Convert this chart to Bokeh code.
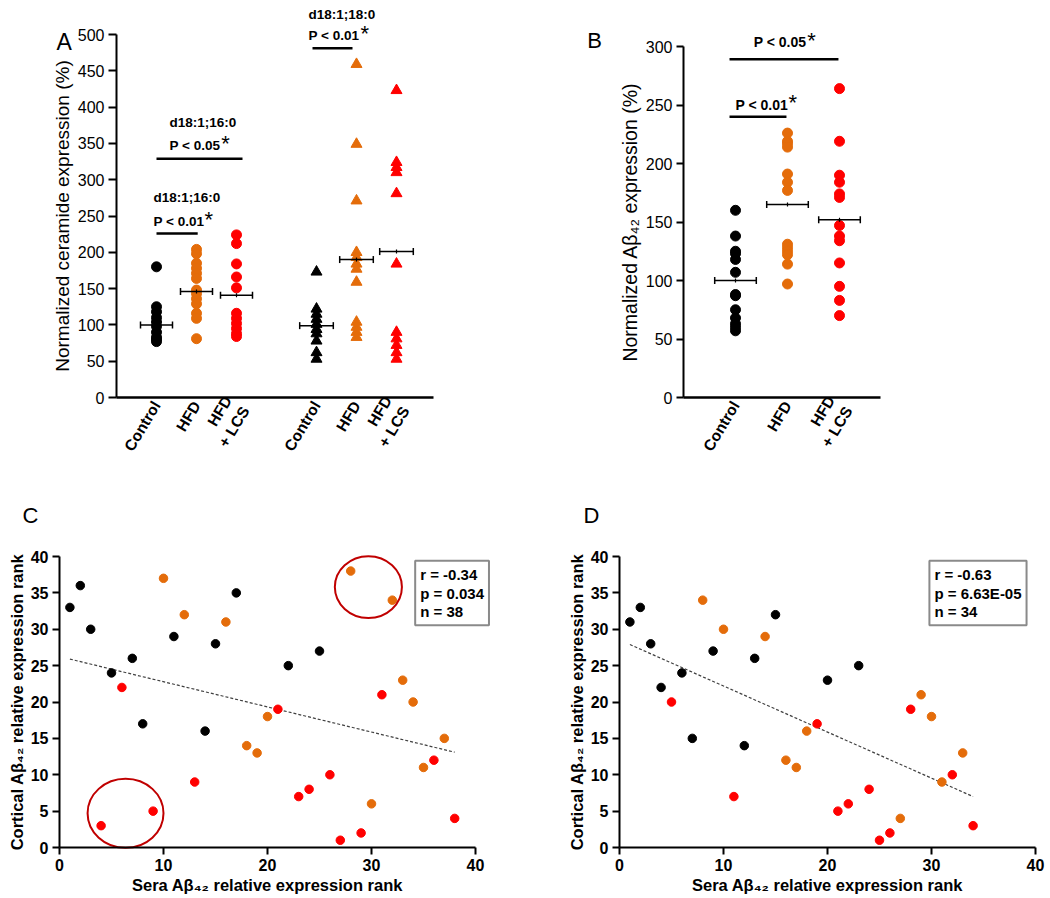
from math import pi
from bokeh.plotting import figure
from bokeh.models import Range1d, FixedTicker, Label, LinearAxis
from bokeh.layouts import row, column
from bokeh.embed import file_html
from bokeh.resources import INLINE

ORANGE = "#E46C0A"
RED = "#FF0000"
BLACK = "#000000"
FONT = "Liberation Sans"

# ---------------- Panel A data ----------------
a_cat_pos = [1, 2, 3, 5, 6, 7]
a_cat_labels = ["Control", "HFD", "HFD\n+ LCS", "Control", "HFD", "HFD\n+ LCS"]
a16_control = [180, 125, 118, 110, 104, 98, 90, 83, 80, 77]
a16_hfd = [204, 198, 185, 178, 171, 164, 148, 143, 136, 129, 116, 109, 81]
a16_lcs = [224, 212, 184, 166, 151, 116, 109, 102, 95, 88, 84]
a16_means = [100, 146, 141]
a18_control = [173, 122, 115, 108, 101, 94, 88, 78, 62, 53]
a18_hfd = [459, 349, 271, 200, 193, 184, 177, 159, 104, 97, 90, 83]
a18_lcs = [423, 324, 317, 310, 281, 184, 90, 81, 72, 62, 53]
a18_means = [99, 190, 201]
# significance brackets: (x0, x1, y, line1, line2, text_x, line1_y, line2_y, star_x, star_y)
a_sig = [
    (1.0, 2.03, 226, "d18:1;16:0", "P < 0.01", 0.925, 275, 242, 2.2, 262),
    (1.0, 3.15, 329, "d18:1;16:0", "P < 0.05", 1.325, 379, 347, 2.62, 367),
    (4.9, 5.9, 481, "d18:1;18:0", "P < 0.01", 4.8, 528, 499, 6.1, 518),
]

# ---------------- Panel B data ----------------
b_cat_pos = [1, 2, 3]
b_cat_labels = ["Control", "HFD", "HFD\n+ LCS"]
b_control = [160, 138, 125, 123, 118, 107, 88, 87, 75, 68, 63, 60, 57]
b_hfd = [226, 219, 217, 214, 191, 184, 177, 131, 128, 125, 122, 114, 97]
b_lcs = [264, 219, 190, 184, 174, 171, 147, 138, 134, 115, 95, 83, 70]
b_means = [100, 165, 152]
b_sig = [
    (0.885, 1.98, 240, "P < 0.01", 1.0, 250, 2.02, 263),
    (0.885, 2.98, 289, "P < 0.05", 1.35, 304, 2.38, 316),
]

# ---------------- Panel C data ----------------
c_black_x = [1, 2, 3, 5, 7, 8, 11, 14, 15, 17, 22, 25]
c_black_y = [33, 36, 30, 24, 26, 17, 29, 16, 28, 35, 25, 27]
c_orange_x = [10, 12, 16, 18, 19, 20, 28, 32, 30, 33, 34, 35, 37]
c_orange_y = [37, 32, 31, 14, 13, 18, 38, 34, 6, 23, 20, 11, 15]
c_red_x = [4, 6, 9, 13, 21, 23, 24, 26, 27, 29, 31, 36, 38]
c_red_y = [3, 22, 5, 9, 19, 7, 8, 10, 1, 2, 21, 12, 4]
c_trend_x = [1, 38]
c_trend_y = [25.9, 13.1]
c_ring_x = [6.35, 29.7]
c_ring_y = [4.7, 35.8]
c_ring_w = [7.3, 6.45]
c_ring_h = [9.5, 8.5]
c_stats = "r  = -0.34\np = 0.034\nn = 38"

# ---------------- Panel D data ----------------
d_black_x = [1, 2, 3, 4, 6, 7, 9, 12, 13, 15, 20, 23]
d_black_y = [31, 33, 28, 22, 24, 15, 27, 14, 26, 32, 23, 25]
d_orange_x = [8, 10, 14, 16, 17, 18, 27, 29, 30, 31, 33]
d_orange_y = [34, 30, 29, 12, 11, 16, 4, 21, 18, 9, 13]
d_red_x = [5, 11, 19, 21, 22, 24, 25, 26, 28, 32, 34]
d_red_y = [20, 7, 17, 5, 6, 8, 1, 2, 19, 10, 3]
d_trend_x = [1, 34]
d_trend_y = [27.9, 7.0]
d_stats = "r  = -0.63\np = 6.63E-05\nn = 34"

TOP_H = 458
BOT_H = 436
LEFT_W = 540
RIGHT_W = 506


def base_fig(w, h, ox, sx, oy, sy, left, top):
    """Figure whose frame fills the whole figure.
    ox/oy: page pixel of data 0; sx/sy: pixels per data unit; left/top: page pixel of figure corner."""
    x0 = (left - ox) / sx
    x1 = (left + w - ox) / sx
    y1 = (oy - top) / sy
    y0 = (oy - (top + h)) / sy
    p = figure(width=w, height=h, x_range=Range1d(x0, x1), y_range=Range1d(y0, y1),
               output_backend="svg", toolbar_location=None, title=None,
               x_axis_location=None, y_axis_location=None,
               min_border=0, min_border_left=0, min_border_right=0,
               min_border_top=0, min_border_bottom=0)
    p.xgrid.visible = False
    p.ygrid.visible = False
    p.outline_line_color = None
    p.background_fill_color = "white"
    p.border_fill_color = "white"
    return p


def add_axes(p, xbounds, ybounds, tick_out):
    xa = LinearAxis(fixed_location=0, bounds=xbounds)
    ya = LinearAxis(fixed_location=0, bounds=ybounds)
    for ax in (xa, ya):
        ax.axis_line_width = 2
        ax.axis_line_color = "black"
        ax.major_tick_line_width = 2
        ax.major_tick_line_color = "black"
        ax.minor_tick_out = 0
        ax.minor_tick_in = 0
        ax.major_tick_in = 0
        ax.major_tick_out = tick_out
        ax.major_label_standoff = 4
        ax.major_label_text_font = FONT
        ax.major_label_text_color = "black"
        ax.axis_label_text_font = FONT
        ax.axis_label_text_color = "black"
    p.add_layout(xa, "below")
    p.add_layout(ya, "left")
    return xa, ya


def add_text(p, x, y, text, size, style="bold", align="left", baseline="middle"):
    p.add_layout(Label(x=x, y=y, text=text, text_font=FONT, text_font_size=size,
                       text_font_style=style, text_align=align, text_baseline=baseline,
                       text_color="black"))


def mean_bars(p, xs, means, half):
    x0 = [x - half for x in xs]
    x1 = [x + half for x in xs]
    p.segment(x0=x0, x1=x1, y0=means, y1=means, line_color="black", line_width=1.5)
    p.scatter(x=x0 + x1, y=means + means, marker="dash", angle=pi / 2, size=7,
              line_color="black", line_width=1.5)
    p.scatter(x=xs, y=means, marker="dash", angle=pi / 2, size=4,
              line_color="black", line_width=1.2)


def cat_axis(ax, pos, labels):
    ax.ticker = FixedTicker(ticks=pos)
    ax.major_label_overrides = {p_: l for p_, l in zip(pos, labels)}
    ax.major_tick_out = 0
    ax.major_label_orientation = 1.03
    ax.major_label_text_font_size = "15.5px"
    ax.major_label_text_font_style = "bold"
    ax.major_label_standoff = 5
    ax.axis_line_width = 2.5


# ---------------- Figure A ----------------
pA = base_fig(LEFT_W, TOP_H, 116, 40, 397, 0.726, 0, 0)
xa, ya = add_axes(pA, (0, 7.925), (0, 500), 8)
cat_axis(xa, a_cat_pos, a_cat_labels)
ya.ticker = FixedTicker(ticks=list(range(0, 501, 50)))
ya.major_label_text_font_size = "16px"
ya.axis_label = "Normalized ceramide expression (%)"
ya.axis_label_text_font_size = "19px"
ya.axis_label_text_font_style = "normal"
ya.axis_label_standoff = 2

for xpos, vals, col in [(1, a16_control, BLACK), (2, a16_hfd, ORANGE), (3, a16_lcs, RED)]:
    pA.scatter(x=[xpos] * len(vals), y=vals, marker="circle", size=10,
               fill_color=col, line_color=col)
for xpos, vals, col in [(5, a18_control, BLACK), (6, a18_hfd, ORANGE), (7, a18_lcs, RED)]:
    pA.scatter(x=[xpos] * len(vals), y=vals, marker="triangle", size=11,
               fill_color=col, line_color=col)
mean_bars(pA, [1, 2, 3], a16_means, 0.4)
mean_bars(pA, [5, 6, 7], a18_means, 0.42)
for x0, x1, y, t1, t2, tx, ty1, ty2, sx, sy in a_sig:
    pA.segment(x0=[x0], x1=[x1], y0=[y], y1=[y], line_color="black", line_width=2.5)
    add_text(pA, tx, ty1, t1, "13.5px")
    add_text(pA, tx, ty2, t2, "13.5px")
    add_text(pA, sx, sy, "*", "22px", style="normal", baseline="top")
add_text(pA, -1.5, 489, "A", "23px", style="normal", align="left")

# ---------------- Figure B ----------------
pB = base_fig(RIGHT_W, TOP_H, 683, 52, 397, 1.17, LEFT_W, 0)
xb, yb = add_axes(pB, (0, 3.79), (0, 300), 7)
cat_axis(xb, b_cat_pos, b_cat_labels)
yb.ticker = FixedTicker(ticks=list(range(0, 301, 50)))
yb.major_label_text_font_size = "16px"
yb.axis_label = "Normalized A\u03b2\u2084\u2082 expression (%)"
yb.axis_label_text_font_size = "19.5px"
yb.axis_label_text_font_style = "normal"
yb.axis_label_standoff = 2
for xpos, vals, col in [(1, b_control, BLACK), (2, b_hfd, ORANGE), (3, b_lcs, RED)]:
    pB.scatter(x=[xpos] * len(vals), y=vals, marker="circle", size=10,
               fill_color=col, line_color=col)
mean_bars(pB, [1, 2, 3], b_means, 0.4)
for x0, x1, y, t, tx, ty, sx, sy in b_sig:
    pB.segment(x0=[x0], x1=[x1], y0=[y], y1=[y], line_color="black", line_width=2.5)
    add_text(pB, tx, ty, t, "14px")
    add_text(pB, sx, sy, "*", "22px", style="normal", baseline="top")
add_text(pB, -1.85, 305, "B", "22px", style="normal", align="left")


# ---------------- Figures C, D ----------------
def scatter_panel(w, left, ox, bx, by, ox_, oy_, rx, ry, tx, ty, stats, stats_x, letter, letter_x):
    p = base_fig(w, BOT_H, ox, 10.4, 847, 7.275, left, TOP_H)
    xa_, ya_ = add_axes(p, (0, 40), (0, 40), 7)
    xa_.ticker = FixedTicker(ticks=[0, 10, 20, 30, 40])
    ya_.ticker = FixedTicker(ticks=list(range(0, 41, 5)))
    for ax in (xa_, ya_):
        ax.major_label_text_font_size = "16px"
        ax.major_label_text_font_style = "bold"
        ax.axis_label_text_font_size = "16.5px"
        ax.axis_label_text_font_style = "bold"
        ax.axis_label_standoff = 2
    xa_.axis_label = "Sera A\u03b2\u2084\u2082 relative expression rank"
    ya_.axis_label = "Cortical A\u03b2\u2084\u2082 relative expression rank"
    p.line(x=tx, y=ty, line_color="#404040", line_width=1.2, line_dash="3 2")
    for xs, ys, col in [(bx, by, BLACK), (ox_, oy_, ORANGE), (rx, ry, RED)]:
        p.scatter(x=xs, y=ys, marker="circle", size=8.5, fill_color=col, line_color=col)
    p.add_layout(Label(x=stats_x, y=39.4, text=stats, text_font=FONT, text_font_size="15px",
                       text_font_style="bold", text_align="left", text_baseline="top",
                       text_color="black", text_line_height=1.1,
                       border_line_color="#8a8a8a", border_line_width=2,
                       background_fill_color="white", padding=5))
    add_text(p, letter_x, 45.7, letter, "22px", style="normal", align="left")
    return p


pC = scatter_panel(LEFT_W, 0, 59, c_black_x, c_black_y, c_orange_x, c_orange_y,
                   c_red_x, c_red_y, c_trend_x, c_trend_y, c_stats, 34.2, "C", -3.56)
pC.ellipse(x=c_ring_x, y=c_ring_y, width=c_ring_w, height=c_ring_h,
           fill_color=None, line_color="#C00000", line_width=2)
pD = scatter_panel(RIGHT_W, LEFT_W, 619, d_black_x, d_black_y, d_orange_x, d_orange_y,
                   d_red_x, d_red_y, d_trend_x, d_trend_y, d_stats, 29.8, "D", -3.46)

layout = column(row(pA, pB), row(pC, pD))
open("out.html", "w").write(file_html(layout, INLINE))
